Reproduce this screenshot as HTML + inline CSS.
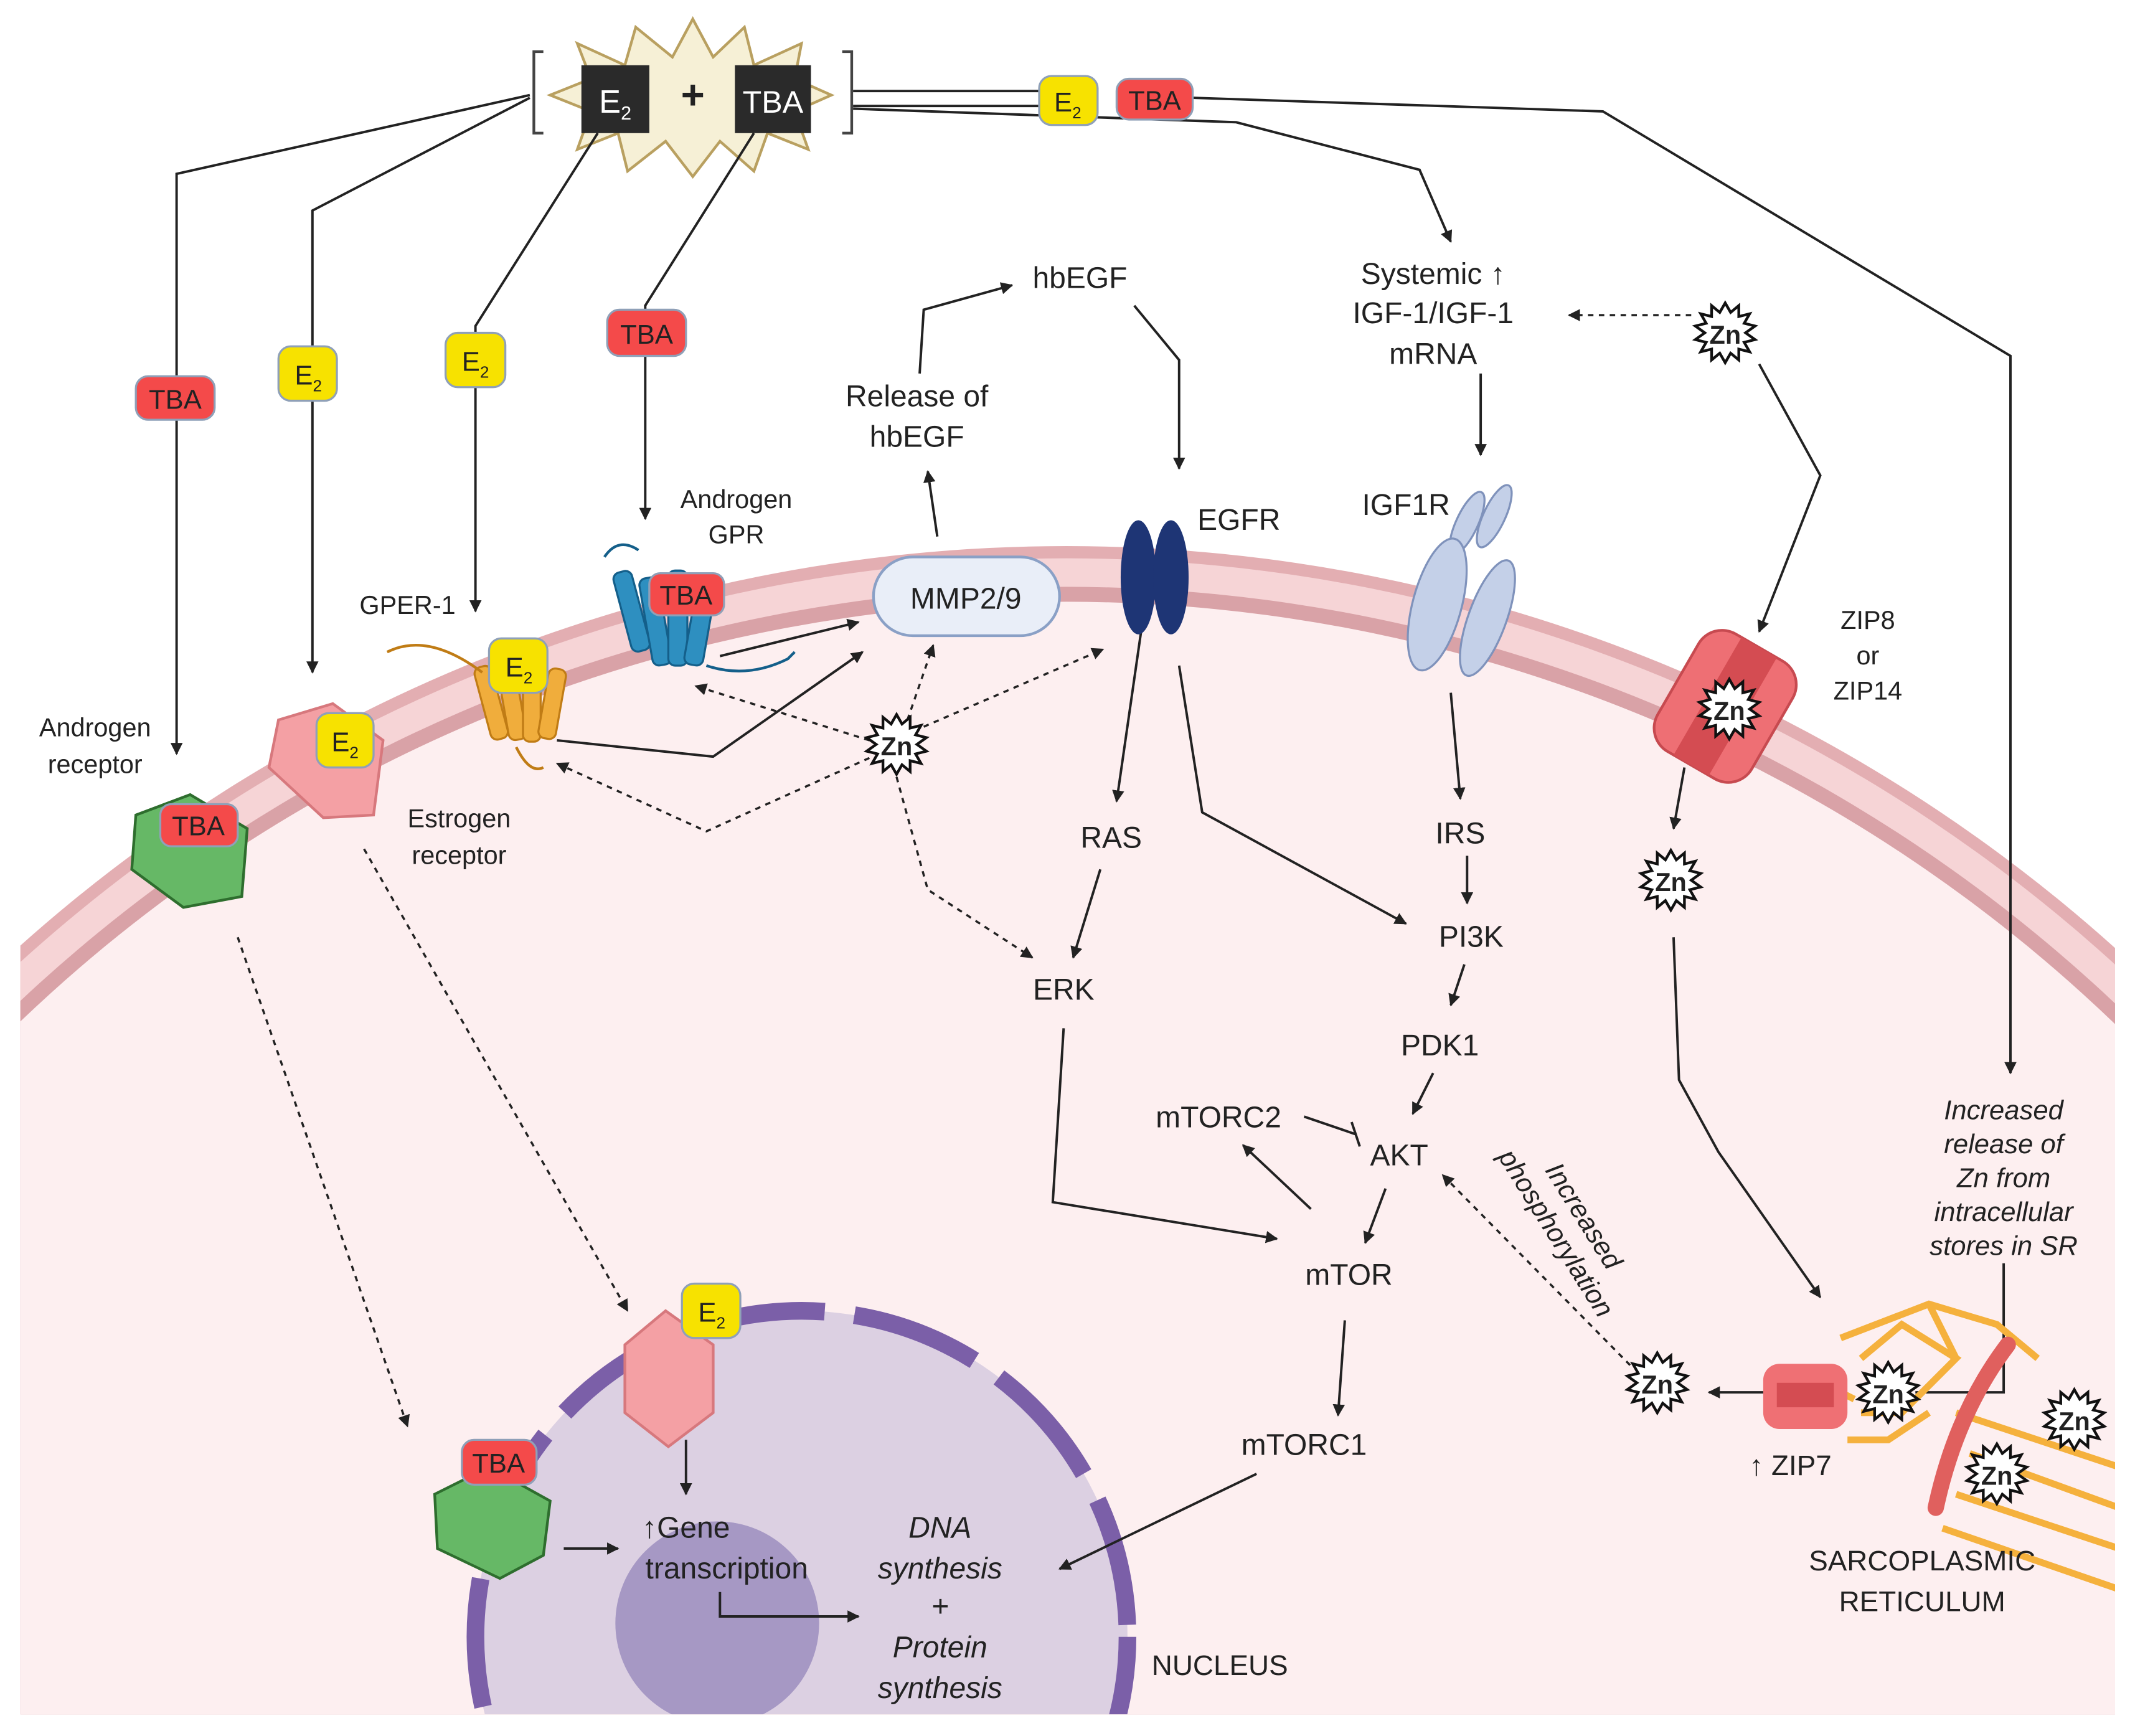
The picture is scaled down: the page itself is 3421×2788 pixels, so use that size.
<!DOCTYPE html>
<html><head><meta charset="utf-8"><style>
html,body{margin:0;padding:0;background:#fff;width:3421px;height:2788px;overflow:hidden;}
svg{display:block;}
text{font-family:"Liberation Sans",sans-serif;fill:#222;}
</style></head><body>
<svg width="3421" height="2788" viewBox="0 0 1568 1278" preserveAspectRatio="none" xmlns="http://www.w3.org/2000/svg">
<defs>
<marker id="ar" viewBox="0 0 10 10" refX="9" refY="5" markerWidth="9" markerHeight="9" orient="auto-start-reverse" markerUnits="userSpaceOnUse"><path d="M0,0 L10,5 L0,10 z" fill="#222"/></marker>
<clipPath id="cell"><rect x="15" y="0" width="1542" height="1262"/></clipPath>
<polygon id="zn" points="0,-22 4,-15 10,-20 10,-12 18,-14 14,-7 22,-5 15,0 22,5 14,7 18,14 10,12 10,20 4,15 0,22 -4,15 -10,20 -10,12 -18,14 -14,7 -22,5 -15,0 -22,-5 -14,-7 -18,-14 -10,-12 -10,-20 -4,-15" fill="#fff" stroke="#111" stroke-width="2"/>
</defs>

<!-- cell -->
<g clip-path="url(#cell)">
<circle cx="785" cy="1557" r="1155" fill="#e3aeb2"/>
<circle cx="785" cy="1557" r="1146" fill="#f6d4d6"/>
<circle cx="785" cy="1557" r="1125" fill="#d9a2a7"/>
<circle cx="785" cy="1557" r="1114" fill="#fdeff0"/>
<!-- nucleus -->
<circle cx="590" cy="1205" r="240" fill="#dcd0e2"/>
<circle cx="590" cy="1205" r="240" fill="none" stroke="#7b5fa8" stroke-width="13" stroke-dasharray="95 22"/>
<circle cx="528" cy="1195" r="75" fill="#a698c4"/>
</g>

<!-- top complex -->
<polygon points="510,14 525,42 548,20 555,48 590,32 585,58 612,70 585,82 595,110 565,98 555,126 530,104 510,130 490,104 462,126 455,98 425,110 435,82 405,70 435,58 425,32 460,48 468,20 495,42" fill="#f6f0d6" stroke="#b9a060" stroke-width="2"/>
<path d="M400,38 h-7 v60 h7 M620,38 h7 v60 h-7" fill="none" stroke="#444" stroke-width="2"/>
<rect x="428" y="48" width="50" height="50" fill="#2a2a2a"/>
<text x="441" y="83" font-size="24" style="fill:#fff">E<tspan font-size="14" dy="5">2</tspan></text>
<text x="510" y="80" font-size="30" font-weight="bold" text-anchor="middle">+</text>
<rect x="541" y="48" width="56" height="50" fill="#2a2a2a"/>
<text x="569" y="83" font-size="23" text-anchor="middle" style="fill:#fff">TBA</text>

<!-- connectors -->
<g fill="none" stroke="#222" stroke-width="1.8">
<path d="M628,67 H765 M628,78 H765"/>
<path d="M878,72 L1180,82 L1480,262 V790" marker-end="url(#ar)"/>
<path d="M628,80 L910,90 L1045,125 L1068,178" marker-end="url(#ar)"/>
<path d="M390,70 L130,128 V555" marker-end="url(#ar)"/>
<path d="M390,72 L230,155 V495" marker-end="url(#ar)"/>
<path d="M440,98 L350,240 V450" marker-end="url(#ar)"/>
<path d="M555,98 L475,225 V382" marker-end="url(#ar)"/>
<path d="M690,395 L683,347" marker-end="url(#ar)"/>
<path d="M677,275 L680,228 L745,210" marker-end="url(#ar)"/>
<path d="M835,225 L868,265 V345" marker-end="url(#ar)"/>
<path d="M1090,275 V335" marker-end="url(#ar)"/>
<path d="M1295,268 L1340,350 L1295,465" marker-end="url(#ar)"/>
<path d="M530,483 L632,458" marker-end="url(#ar)"/>
<path d="M410,545 L525,557 L635,480" marker-end="url(#ar)"/>
<path d="M840,465 L822,590" marker-end="url(#ar)"/>
<path d="M868,490 L885,598 L1035,680" marker-end="url(#ar)"/>
<path d="M1068,510 L1075,588" marker-end="url(#ar)"/>
<path d="M810,640 L790,705" marker-end="url(#ar)"/>
<path d="M1080,630 V665" marker-end="url(#ar)"/>
<path d="M1078,710 L1068,740" marker-end="url(#ar)"/>
<path d="M1055,790 L1040,820" marker-end="url(#ar)"/>
<path d="M960,822 L998,835 M995,826 L1001,844"/>
<path d="M965,890 L915,843" marker-end="url(#ar)"/>
<path d="M1020,875 L1005,915" marker-end="url(#ar)"/>
<path d="M783,757 L775,885 L940,912" marker-end="url(#ar)"/>
<path d="M990,972 L985,1042" marker-end="url(#ar)"/>
<path d="M925,1085 L780,1155" marker-end="url(#ar)"/>
<path d="M1240,565 L1232,610" marker-end="url(#ar)"/>
<path d="M1232,690 L1236,795 L1265,848 L1340,955" marker-end="url(#ar)"/>
<path d="M1475,930 V1025 H1410"/>
<path d="M1300,1025 H1258" marker-end="url(#ar)"/>
<path d="M505,1060 V1100" marker-end="url(#ar)"/>
<path d="M415,1140 H455" marker-end="url(#ar)"/>
<path d="M530,1172 V1190 H632" marker-end="url(#ar)"/>
</g>
<g fill="none" stroke="#222" stroke-width="1.6" stroke-dasharray="4 4">
<path d="M1245,232 L1155,232" marker-end="url(#ar)"/>
<path d="M640,545 L512,505" marker-end="url(#ar)"/>
<path d="M668,530 L687,475" marker-end="url(#ar)"/>
<path d="M680,535 L812,478" marker-end="url(#ar)"/>
<path d="M640,558 L520,612 L410,562" marker-end="url(#ar)"/>
<path d="M660,572 L683,655 L760,705" marker-end="url(#ar)"/>
<path d="M1200,1005 L1062,865" marker-end="url(#ar)"/>
<path d="M175,690 L300,1050" marker-end="url(#ar)"/>
<path d="M268,625 L462,965" marker-end="url(#ar)"/>
</g>

<!-- membrane proteins -->
<rect x="643" y="410" width="137" height="58" rx="29" fill="#e9eef8" stroke="#8aa0c6" stroke-width="2"/>
<text x="711" y="448" font-size="22" text-anchor="middle">MMP2/9</text>
<ellipse cx="838" cy="425" rx="13" ry="42" fill="#1e3575"/>
<ellipse cx="862" cy="425" rx="13" ry="42" fill="#1e3575"/>
<g fill="#c4d0e8" stroke="#7f92bb" stroke-width="1.5">
<ellipse cx="1080" cy="385" rx="8" ry="25" transform="rotate(25 1080 385)"/>
<ellipse cx="1100" cy="380" rx="8" ry="25" transform="rotate(25 1100 380)"/>
<ellipse cx="1058" cy="445" rx="18" ry="50" transform="rotate(15 1058 445)"/>
<ellipse cx="1095" cy="455" rx="14" ry="45" transform="rotate(20 1095 455)"/>
</g>
<!-- ZIP8 -->
<g transform="rotate(30 1270 520)">
<rect x="1230" y="470" width="80" height="100" rx="20" fill="#ee6f74" stroke="#c74a50" stroke-width="2"/>
<rect x="1255" y="470" width="30" height="100" fill="#d44c52"/>
</g>
<!-- androgen GPR -->
<g fill="#2e8fc0" stroke="#145f8a" stroke-width="1.5">
<rect x="458" y="420" width="14" height="60" rx="5" transform="rotate(-15 465 450)"/>
<rect x="475" y="425" width="14" height="65" rx="5" transform="rotate(-10 482 455)"/>
<rect x="492" y="420" width="14" height="70" rx="5"/>
<rect x="509" y="425" width="14" height="65" rx="5" transform="rotate(10 516 455)"/>
</g>
<path d="M445,410 q10,-15 25,-5 M520,490 q30,10 60,-5 L585,480" fill="none" stroke="#145f8a" stroke-width="2"/>
<!-- GPER -->
<g fill="#f0ad3c" stroke="#c07c15" stroke-width="1.5">
<rect x="355" y="490" width="13" height="55" rx="5" transform="rotate(-15 361 517)"/>
<rect x="370" y="485" width="13" height="60" rx="5" transform="rotate(-10 376 515)"/>
<rect x="385" y="488" width="13" height="58" rx="5"/>
<rect x="400" y="492" width="13" height="52" rx="5" transform="rotate(10 406 518)"/>
</g>
<path d="M285,480 q30,-15 70,15 M380,550 q10,20 20,15" fill="none" stroke="#c07c15" stroke-width="2"/>
<!-- estrogen receptor -->
<polygon points="205,530 245,518 282,545 275,600 238,602 198,565" fill="#f4a0a4" stroke="#d7787d" stroke-width="2"/>
<!-- androgen receptor -->
<polygon points="100,600 140,585 182,610 178,660 135,668 97,640" fill="#66b866" stroke="#2e6e2e" stroke-width="2"/>
<!-- nucleus receptors -->
<polygon points="460,990 490,965 525,990 525,1040 492,1065 460,1040" fill="#f4a0a4" stroke="#d7787d" stroke-width="2"/>
<polygon points="320,1100 360,1080 405,1105 400,1145 368,1162 322,1140" fill="#66b866" stroke="#2e6e2e" stroke-width="2"/>

<!-- SR -->
<g clip-path="url(#cell)">
<g stroke="#f5b13d" stroke-width="5" fill="none">
<path d="M1355,985 L1420,960 L1470,975 L1500,1000 M1370,1000 L1400,975 L1440,1000 L1400,1040 L1370,1040 M1420,960 L1440,1000 M1360,1060 L1390,1060 L1420,1040 M1345,1020 L1365,1030"/>
<path d="M1440,1040 L1560,1080 M1450,1070 L1560,1110 M1440,1100 L1560,1140 M1430,1125 L1560,1170"/>
</g>
</g>
<path d="M1478,990 Q1440,1040 1425,1110" stroke="#e0605e" stroke-width="12" fill="none" stroke-linecap="round"/>
<rect x="1298" y="1004" width="62" height="48" rx="12" fill="#ef7074"/>
<rect x="1308" y="1018" width="42" height="18" fill="#d44c52"/>

<!-- Zn stars -->
<use href="#zn" x="1270" y="245"/><text x="1270" y="253" font-size="19" font-weight="bold" text-anchor="middle">Zn</text>
<use href="#zn" x="660" y="548"/><text x="660" y="556" font-size="19" font-weight="bold" text-anchor="middle">Zn</text>
<use href="#zn" x="1273" y="522"/><text x="1273" y="530" font-size="19" font-weight="bold" text-anchor="middle">Zn</text>
<use href="#zn" x="1230" y="648"/><text x="1230" y="656" font-size="19" font-weight="bold" text-anchor="middle">Zn</text>
<use href="#zn" x="1220" y="1018"/><text x="1220" y="1026" font-size="19" font-weight="bold" text-anchor="middle">Zn</text>
<use href="#zn" x="1390" y="1025"/><text x="1390" y="1033" font-size="19" font-weight="bold" text-anchor="middle">Zn</text>
<use href="#zn" x="1470" y="1085"/><text x="1470" y="1093" font-size="19" font-weight="bold" text-anchor="middle">Zn</text>
<use href="#zn" x="1527" y="1045"/><text x="1527" y="1053" font-size="19" font-weight="bold" text-anchor="middle">Zn</text>

<!-- badges -->
<g stroke="#8fa0b8" stroke-width="1.5">
<rect x="765" y="56" width="43" height="36" rx="9" fill="#f7e200"/>
<rect x="822" y="58" width="56" height="30" rx="9" fill="#f44a4a"/>
<rect x="100" y="277" width="58" height="32" rx="9" fill="#f44a4a"/>
<rect x="205" y="255" width="43" height="40" rx="9" fill="#f7e200"/>
<rect x="328" y="245" width="44" height="40" rx="9" fill="#f7e200"/>
<rect x="447" y="228" width="58" height="34" rx="9" fill="#f44a4a"/>
<rect x="478" y="422" width="55" height="31" rx="8" fill="#f44a4a"/>
<rect x="360" y="470" width="43" height="40" rx="9" fill="#f7e200"/>
<rect x="233" y="525" width="42" height="40" rx="9" fill="#f7e200"/>
<rect x="118" y="592" width="57" height="31" rx="8" fill="#f44a4a"/>
<rect x="502" y="945" width="43" height="40" rx="9" fill="#f7e200"/>
<rect x="340" y="1060" width="55" height="33" rx="9" fill="#f44a4a"/>
</g>
<g font-size="20" text-anchor="middle">
<text x="786" y="82">E<tspan font-size="12" dy="5">2</tspan></text>
<text x="850" y="81">TBA</text>
<text x="129" y="301">TBA</text>
<text x="227" y="283">E<tspan font-size="12" dy="5">2</tspan></text>
<text x="350" y="273">E<tspan font-size="12" dy="5">2</tspan></text>
<text x="476" y="253">TBA</text>
<text x="505" y="445">TBA</text>
<text x="382" y="498">E<tspan font-size="12" dy="5">2</tspan></text>
<text x="254" y="553">E<tspan font-size="12" dy="5">2</tspan></text>
<text x="146" y="615">TBA</text>
<text x="524" y="973">E<tspan font-size="12" dy="5">2</tspan></text>
<text x="367" y="1084">TBA</text>
</g>

<!-- labels -->
<g font-size="22" text-anchor="middle">
<text x="795" y="212">hbEGF</text>
<text x="675" y="299">Release of</text>
<text x="675" y="329">hbEGF</text>
<text x="1055" y="209">Systemic ↑</text>
<text x="1055" y="238">IGF-1/IGF-1</text>
<text x="1055" y="268">mRNA</text>
<text x="912" y="390">EGFR</text>
<text x="1035" y="379">IGF1R</text>
<text x="818" y="624">RAS</text>
<text x="783" y="736">ERK</text>
<text x="1075" y="621">IRS</text>
<text x="1083" y="697">PI3K</text>
<text x="1060" y="777">PDK1</text>
<text x="897" y="830">mTORC2</text>
<text x="1030" y="858">AKT</text>
<text x="993" y="946">mTOR</text>
<text x="960" y="1071">mTORC1</text>
<text x="505" y="1132">↑Gene</text>
<text x="535" y="1162">transcription</text>
</g>
<g font-size="19" text-anchor="middle" style="fill:#333">
<text x="542" y="374">Androgen</text>
<text x="542" y="400">GPR</text>
<text x="300" y="452">GPER-1</text>
<text x="70" y="542">Androgen</text>
<text x="70" y="569">receptor</text>
<text x="338" y="609">Estrogen</text>
<text x="338" y="636">receptor</text>
<text x="1375" y="463">ZIP8</text>
<text x="1375" y="489">or</text>
<text x="1375" y="515">ZIP14</text>
<text x="1318" y="1086" font-size="21">↑ ZIP7</text>
<text x="1415" y="1156" font-size="21">SARCOPLASMIC</text>
<text x="1415" y="1186" font-size="21">RETICULUM</text>
<text x="898" y="1233" font-size="21">NUCLEUS</text>
</g>
<g font-size="20" font-style="italic" text-anchor="middle" style="fill:#333">
<text x="1475" y="824">Increased</text>
<text x="1475" y="849">release of</text>
<text x="1475" y="874">Zn from</text>
<text x="1475" y="899">intracellular</text>
<text x="1475" y="924">stores in SR</text>
<text x="692" y="1132" font-size="22">DNA</text>
<text x="692" y="1162" font-size="22">synthesis</text>
<text x="692" y="1190" font-size="22">+</text>
<text x="692" y="1220" font-size="22">Protein</text>
<text x="692" y="1250" font-size="22">synthesis</text>
<g transform="translate(1150,905) rotate(58)">
<text x="0" y="-12">Increased</text>
<text x="0" y="12">phosphorylation</text>
</g>
</g>
</svg>
</body></html>
